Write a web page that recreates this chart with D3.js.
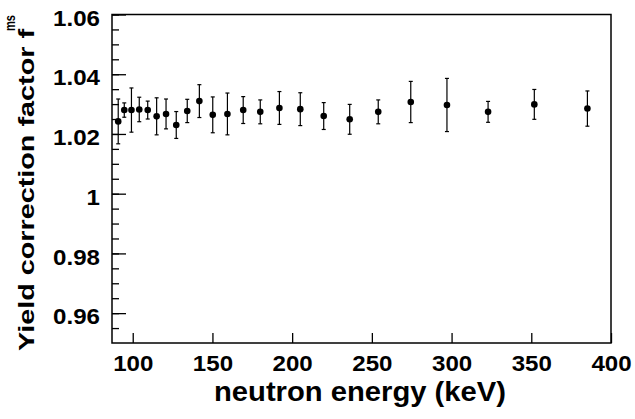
<!DOCTYPE html>
<html>
<head>
<meta charset="utf-8">
<script src="https://cdn.jsdelivr.net/npm/d3@7"></script>
<style>
  body { margin: 0; background: #fff; }
  text { font-family: "Liberation Sans", Arial, Helvetica, sans-serif; font-weight: bold; fill: #000; }
</style>
</head>
<body>
<script>
// neutron energy (keV) of each bin
const energy = [90.9, 94.7, 99.2, 104.1, 109.4, 115.0, 120.9, 127.3, 134.2, 141.8, 150.2, 159.4,
                169.3, 180.0, 192.0, 205.1, 219.8, 236.1, 254.0, 274.4, 297.1, 322.9, 351.9, 385.2];
// yield correction factor f^ms
const fms = [1.0242, 1.0280, 1.0280, 1.0282, 1.0280, 1.0259, 1.0267, 1.0230, 1.0277, 1.0310, 1.0264, 1.0267,
             1.0280, 1.0274, 1.0287, 1.0283, 1.0260, 1.0249, 1.0274, 1.0307, 1.0297, 1.0274, 1.0299, 1.0285];
// symmetric uncertainty
const fmsErr = [0.0075, 0.0024, 0.0074, 0.0041, 0.0030, 0.0062, 0.0050, 0.0045, 0.0039, 0.0055, 0.0060, 0.0070,
                0.0045, 0.0040, 0.0055, 0.0055, 0.0045, 0.0050, 0.0040, 0.0069, 0.0089, 0.0035, 0.0050, 0.0059];

const xTicks = [100, 150, 200, 250, 300, 350, 400];
const yTicks = [0.96, 0.98, 1.00, 1.02, 1.04, 1.06];
const yTickLabels = ["0.96", "0.98", "1", "1.02", "1.04", "1.06"];

const width = 635,
      height = 419;

const frame = {left: 112, right: 611, top: 14.5, bottom: 343};

const x = d3.scaleLinear()
    .domain([87, 400])
    .range([frame.left, frame.right]);

const y = d3.scaleLinear()
    .domain([0.95, 1.06])
    .range([frame.bottom, frame.top]);

const svg = d3.select("body").append("svg")
    .attr("width", width)
    .attr("height", height);

// stretch labels a bit, the original font is wider than Liberation Sans
const labelWidth = s => s.replace(/\./g, "").length * 13.4 + (s.match(/\./g) || []).length * 6.7;

// y axis: major + minor ticks drawn inward
svg.append("g")
    .attr("transform", `translate(${frame.left},0)`)
    .call(d3.axisLeft(y).tickValues(d3.range(0.955, 1.06, 0.005)).tickSize(-7).tickFormat(""))
    .call(g => g.select(".domain").remove())
    .call(g => g.selectAll("line").attr("stroke-width", 1.3));

svg.append("g")
    .attr("transform", `translate(${frame.left},0)`)
    .call(d3.axisLeft(y).tickValues(yTicks).tickSize(-14).tickPadding(12)
      .tickFormat((d, i) => yTickLabels[i]))
    .call(g => g.select(".domain").remove())
    .call(g => g.selectAll("line").attr("stroke-width", 1.3))
    .call(g => g.selectAll("text")
      .attr("font-size", 21.5)
      .attr("dy", "0.5em")
      .attr("textLength", (d, i) => labelWidth(yTickLabels[i]))
      .attr("lengthAdjust", "spacingAndGlyphs"));

// x axis
svg.append("g")
    .attr("transform", `translate(0,${frame.bottom})`)
    .call(d3.axisBottom(x).tickValues(xTicks).tickSize(-10).tickPadding(13).tickFormat(d3.format("d")))
    .call(g => g.select(".domain").remove())
    .call(g => g.selectAll("line").attr("stroke-width", 1.3))
    .call(g => g.selectAll("text")
      .attr("font-size", 21.5)
      .attr("textLength", d => labelWidth(String(d)))
      .attr("lengthAdjust", "spacingAndGlyphs"));

// frame
svg.append("rect")
    .attr("x", frame.left)
    .attr("y", frame.top)
    .attr("width", frame.right - frame.left)
    .attr("height", frame.bottom - frame.top)
    .attr("fill", "none")
    .attr("stroke", "#000")
    .attr("stroke-width", 1.5);

// data points with error bars
const pts = svg.append("g")
  .selectAll("g")
  .data(energy.map((e, i) => ({e, f: fms[i], err: fmsErr[i]})))
  .join("g");

pts.append("line")
    .attr("x1", d => x(d.e)).attr("x2", d => x(d.e))
    .attr("y1", d => y(d.f - d.err)).attr("y2", d => y(d.f + d.err))
    .attr("stroke", "#000").attr("stroke-width", 1.2);

pts.selectAll(".cap")
  .data(d => [d.f - d.err, d.f + d.err].map(v => ({e: d.e, v})))
  .join("line")
    .attr("class", "cap")
    .attr("x1", d => x(d.e) - 2).attr("x2", d => x(d.e) + 2)
    .attr("y1", d => y(d.v)).attr("y2", d => y(d.v))
    .attr("stroke", "#000").attr("stroke-width", 1.2);

pts.append("circle")
    .attr("cx", d => x(d.e))
    .attr("cy", d => y(d.f))
    .attr("r", 3.3)
    .attr("fill", "#000");

// axis titles
svg.append("text")
    .attr("x", 214)
    .attr("y", 401)
    .attr("font-size", 27.5)
    .attr("textLength", 292)
    .attr("lengthAdjust", "spacingAndGlyphs")
    .text("neutron energy (keV)");

svg.append("text")
    .attr("transform", "translate(33.5,351) rotate(-90)")
    .attr("font-size", 22)
    .attr("textLength", 322)
    .attr("lengthAdjust", "spacingAndGlyphs")
    .text("Yield correction factor f");

svg.append("text")
    .attr("transform", "translate(15,31) rotate(-90)")
    .attr("font-size", 15)
    .attr("textLength", 16)
    .attr("lengthAdjust", "spacingAndGlyphs")
    .text("ms");
</script>
</body>
</html>
